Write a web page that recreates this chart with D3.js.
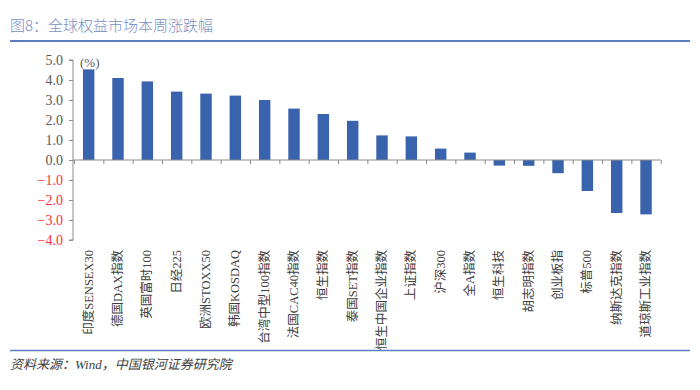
<!DOCTYPE html>
<html><head><meta charset="utf-8">
<script src="https://cdn.jsdelivr.net/npm/d3@7/dist/d3.min.js"></script>
<style>
body{margin:0;background:#fff;}
svg{display:block;}
</style></head>
<body><svg id="c" width="700" height="390"></svg>
<script>
const categories = ["印度SENSEX30","德国DAX指数","英国富时100","日经225","欧洲STOXX50","韩国KOSDAQ","台湾中型100指数","法国CAC40指数","恒生指数","泰国SET指数","恒生中国企业指数","上证指数","沪深300","全A指数","恒生科技","胡志明指数","创业板指","标普500","纳斯达克指数","道琼斯工业指数"];
const values = [4.53,4.10,3.93,3.42,3.32,3.22,3.00,2.57,2.30,1.96,1.23,1.18,0.57,0.37,-0.28,-0.29,-0.66,-1.55,-2.65,-2.72];
const yTicks = [5,4,3,2,1,0,-1,-2,-3,-4];
const title = "图8：全球权益市场本周涨跌幅";
const source = "资料来源：Wind，中国银河证券研究院";
const unit = "(%)";

const svg = d3.select("#c");
const pL = 74, pR = 660.7, pT = 60, pB = 240;
const y = d3.scaleLinear().domain([-4,5]).range([pB, pT]);
const x = d3.scaleBand().domain(categories).range([pL, pR]).paddingInner(0.61).paddingOuter(0.305);
const xi = d3.scaleLinear().domain([0, categories.length]).range([pL, pR]);

const serif = "'Liberation Serif','Times New Roman','Noto Sans CJK SC',serif";

// title
svg.append("text").attr("x",10).attr("y",31).attr("fill","#7a8fc0")
  .style("font-family","'Noto Sans CJK SC',sans-serif").style("font-size","15px").style("font-weight","300").text(title);
svg.append("line").attr("x1",10).attr("x2",690).attr("y1",41).attr("y2",41).attr("stroke","#5b7fc0").attr("stroke-width",2);
svg.append("line").attr("x1",10).attr("x2",690).attr("y1",350.5).attr("y2",350.5).attr("stroke","#5b7fc0").attr("stroke-width",1.5);
svg.append("text").attr("x",10).attr("y",369).attr("fill","#404040")
  .style("font-family",serif).style("font-size","13px").style("font-style","italic").text(source);

// y axis
const ya = svg.append("g").attr("transform",`translate(${pL-1},0)`)
  .call(d3.axisLeft(y).tickValues(yTicks).tickSize(4).tickFormat(d3.format(".1f")));
ya.select(".domain").attr("stroke","#8c8c8c").attr("d",`M-4,${y(5)}H0V${y(-4)}H-4`);
ya.selectAll(".tick line").attr("stroke","#8c8c8c");
ya.selectAll(".tick text").attr("x",-10).style("font-family",serif).style("font-size","14px")
  .attr("fill", d => d < 0 ? "#ff3030" : "#595959");

svg.append("text").attr("x",80).attr("y",67).attr("fill","#595959")
  .style("font-family",serif).style("font-size","13px").text(unit);

// bars
svg.append("g").selectAll("rect").data(values).join("rect")
  .attr("x",(d,i)=>x(categories[i]))
  .attr("width",x.bandwidth())
  .attr("y",d=>y(Math.max(0,d)))
  .attr("height",d=>Math.abs(y(d)-y(0)))
  .attr("fill","#3a63ad");

// x axis at zero
const xa = svg.append("g").attr("transform",`translate(0,${y(0)})`)
  .call(d3.axisBottom(xi).tickValues(d3.range(0,categories.length+1)).tickSize(4).tickFormat(""));
xa.select(".domain").attr("stroke","#8c8c8c").attr("d",`M${pL-1},0H${pR}`);
xa.selectAll(".tick line").attr("stroke","#8c8c8c");

// category labels
svg.append("g").selectAll("text").data(categories).join("text")
  .attr("transform",d=>`translate(${x(d)+x.bandwidth()/2+4},250) rotate(-90)`)
  .attr("text-anchor","end")
  .attr("fill","#404040")
  .style("font-family",serif).style("font-size","12.5px")
  .text(d=>d);
</script></body></html>
